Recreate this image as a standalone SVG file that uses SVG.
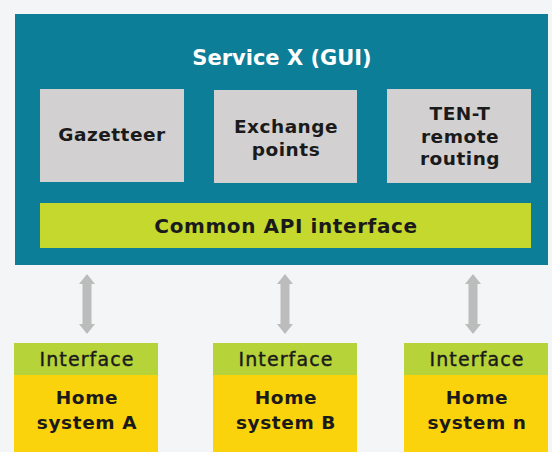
<svg xmlns="http://www.w3.org/2000/svg" width="552" height="452" viewBox="0 0 552 452">
<defs>
<style>
.bg{fill:#f3f5f6}
.main{fill:#0d7e98}
.mod{fill:#d2d0d0}
.api{fill:#c4d82e}
.if{fill:#b6d33a}
.home{fill:#fad30c}
.arrow{fill:#bcbcbc}
text{font-family:"DejaVu Sans","Liberation Sans",sans-serif;font-weight:700;text-anchor:middle;fill:#1a1a1a}
.title{fill:#ffffff;font-size:21px}
.lbl{font-size:18.5px;letter-spacing:0.5px}
.apitxt{font-size:20px;letter-spacing:0.6px}
.iftxt{font-size:19px;font-weight:400;letter-spacing:1.1px;stroke:#1a1a1a;stroke-width:0.4px}
.hometxt{font-size:18.5px;letter-spacing:0.6px}
</style>
</defs>
<rect class="bg" x="0" y="0" width="552" height="452"/>
<g id="service-x">
<rect class="main" x="15" y="14" width="533" height="251"/>
<text class="title" x="282" y="65">Service X (GUI)</text>
</g>
<g id="gazetteer">
<rect class="mod" x="40" y="89" width="144" height="93"/>
<text class="lbl" x="112" y="141">Gazetteer</text>
</g>
<g id="exchange-points">
<rect class="mod" x="214" y="90" width="143" height="93"/>
<text class="lbl" x="286" y="133">Exchange</text>
<text class="lbl" x="286" y="156">points</text>
</g>
<g id="ten-t">
<rect class="mod" x="387" y="89" width="144" height="94"/>
<text class="lbl" x="460" y="120">TEN-T</text>
<text class="lbl" x="460" y="143">remote</text>
<text class="lbl" x="460" y="165">routing</text>
</g>
<g id="common-api">
<rect class="api" x="40" y="203" width="491" height="45"/>
<text class="apitxt" x="286" y="233">Common API interface</text>
</g>
<g id="connectors">
<polygon class="arrow" points="87,274 95,284 91.5,284 91.5,324 95,324 87,334 79,324 82.5,324 82.5,284 79,284"/>
<polygon class="arrow" points="285,274 293,284 289.5,284 289.5,324 293,324 285,334 277,324 280.5,324 280.5,284 277,284"/>
<polygon class="arrow" points="473,274 481,284 477.5,284 477.5,324 481,324 473,334 465,324 468.5,324 468.5,284 465,284"/>
</g>
<g id="home-a">
<rect class="home" x="14" y="343" width="144" height="109"/>
<rect class="if" x="14" y="343" width="144" height="32"/>
<text class="iftxt" x="87" y="366">Interface</text>
<text class="hometxt" x="87" y="404">Home</text>
<text class="hometxt" x="87" y="429">system A</text>
</g>
<g id="home-b">
<rect class="home" x="213" y="343" width="144" height="109"/>
<rect class="if" x="213" y="343" width="144" height="32"/>
<text class="iftxt" x="286" y="366">Interface</text>
<text class="hometxt" x="286" y="404">Home</text>
<text class="hometxt" x="286" y="429">system B</text>
</g>
<g id="home-n">
<rect class="home" x="404" y="343" width="144" height="109"/>
<rect class="if" x="404" y="343" width="144" height="32"/>
<text class="iftxt" x="477" y="366">Interface</text>
<text class="hometxt" x="477" y="404">Home</text>
<text class="hometxt" x="477" y="429">system n</text>
</g>
</svg>
